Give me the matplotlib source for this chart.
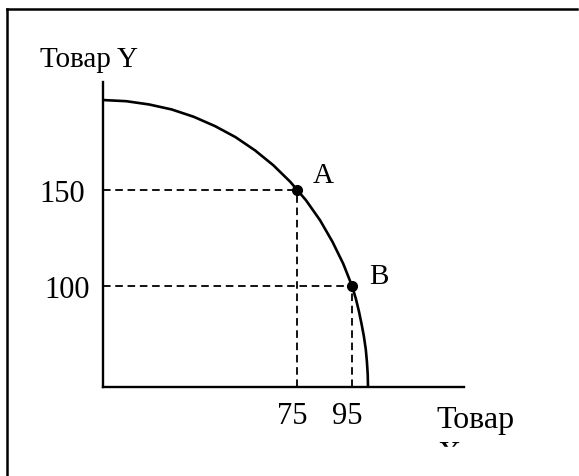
import matplotlib
matplotlib.use("Agg")
import matplotlib.pyplot as plt
from matplotlib.lines import Line2D
from matplotlib.patches import Rectangle
from matplotlib.transforms import ScaledTranslation

plt.rcParams['font.family'] = ['Liberation Serif', 'DejaVu Serif']

# кривая производственных возможностей
ppf_x = [4.5, 12.9, 21.2, 29.4, 37.4, 45.2, 52.6, 59.7, 66.4, 72.6, 78.3, 83.4, 87.9,
         91.8, 95.0, 96.4, 97.5, 98.5, 99.3, 100.0, 100.4, 100.7, 100.8]
ppf_y = [196.9, 196.3, 194.6, 192.0, 188.2, 183.3, 177.6, 170.7, 162.9, 154.2, 144.6, 134.2, 123.0,
         111.6, 100.0, 93.3, 86.8, 79.9, 73.8, 66.9, 60.6, 53.9, 47.4]

# точки A и B
noms = ['A', 'B']
pts_x = [75, 95]
pts_y = [150, 100]

x_min, x_max = 4.45, 135.7
y_min, y_max = 47.4, 206.3

W, H = 579, 477
fig = plt.figure(figsize=(W / 100, H / 100), dpi=100)
ax = fig.add_axes([103 / W, 1 - 388 / H, (464 - 103) / W, (388 - 83) / H])

ax.plot(ppf_x, ppf_y, color='black', lw=1.9, solid_joinstyle='round')

for x, y in zip(pts_x, pts_y):
    ax.plot([x_min, x], [y, y], color='black', lw=1.3, linestyle=(0, (4.2, 2.6)))
    ax.plot([x, x], [y_min, y], color='black', lw=1.3, linestyle=(0, (4.2, 2.6)))

ax.plot(pts_x, pts_y, 'o', color='black', ms=7)
for n, x, y in zip(noms, pts_x, pts_y):
    ax.annotate(n, (x, y), xytext=(19, 11 if n == 'A' else 7), textcoords='offset points',
                ha='center', va='center', fontsize=21)

ax.set_xlim(x_min, x_max)
ax.set_ylim(y_min, y_max)
ax.spines['top'].set_visible(False)
ax.spines['right'].set_visible(False)
ax.spines['left'].set_linewidth(1.7)
ax.spines['bottom'].set_linewidth(1.7)
ax.set_xticks(pts_x, [str(v) for v in pts_x])
ax.set_yticks(pts_y, [str(v) for v in pts_y])
ax.tick_params(axis='x', length=0, pad=10, labelsize=22)
ax.tick_params(axis='y', length=0, pad=12, labelsize=22)

# небольшие сдвиги подписей, как на рисунке
for lab in ax.get_xticklabels():
    lab.set_transform(lab.get_transform() + ScaledTranslation(-0.045, 0, fig.dpi_scale_trans))
for lab, dx in zip(ax.get_yticklabels(), [-0.01, 0.04]):
    lab.set_transform(lab.get_transform() + ScaledTranslation(dx, 0, fig.dpi_scale_trans))

fig.text(40 / W, 1 - 67 / H, 'Товар Y', ha='left', va='baseline', fontsize=21)
fig.text(436 / W, 1 - 428 / H, 'Товар', ha='left', va='baseline', fontsize=23, zorder=3)
fig.text(437 / W, 1 - 463 / H, 'Х', ha='left', va='baseline', fontsize=23, zorder=3)
# нижняя часть подписи обрезана
fig.patches.append(Rectangle((420 / W, 0), 150 / W, 1 - 448 / H, transform=fig.transFigure,
                             color='white', zorder=4))

# рамка
fig.lines.append(Line2D([7 / W, 7 / W], [0, 1 - 10 / H], color='black', lw=1.8,
                        transform=fig.transFigure))
fig.lines.append(Line2D([7 / W, 577 / W], [1 - 10 / H, 1 - 10 / H], color='black', lw=1.8,
                        transform=fig.transFigure))

fig.savefig('out.png', dpi=100)
